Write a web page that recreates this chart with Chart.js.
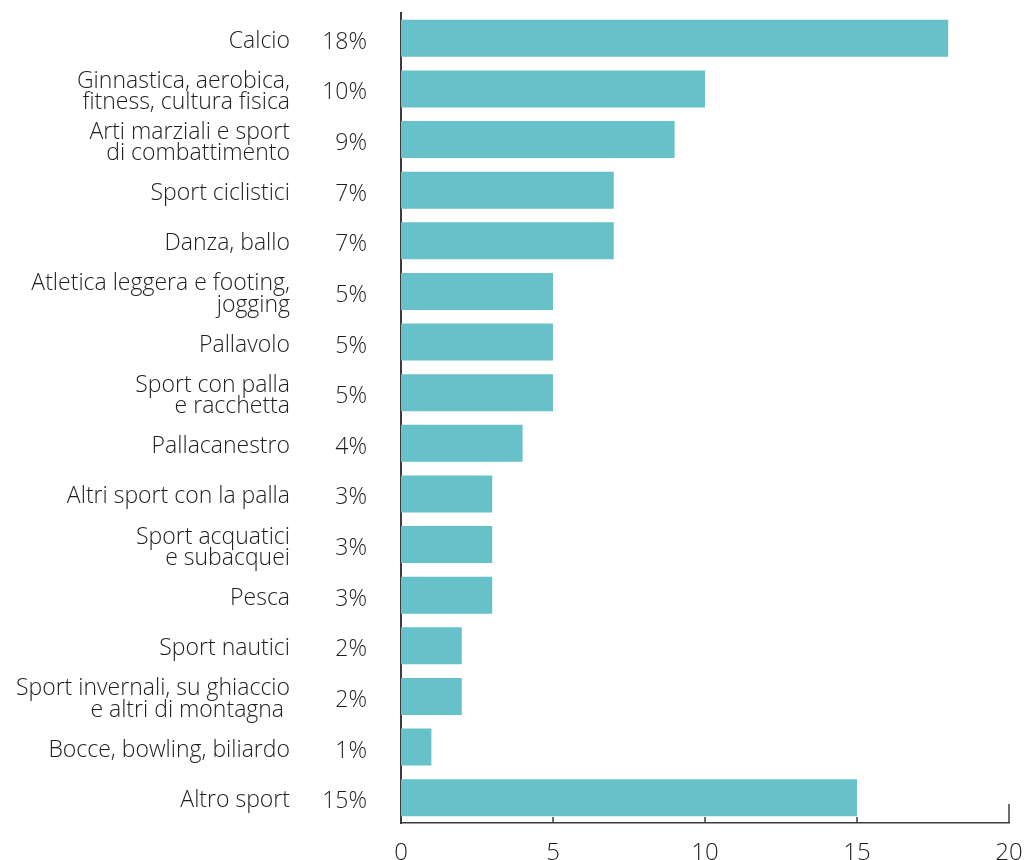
<!DOCTYPE html>
<html lang="it">
<head>
    <meta charset="UTF-8">
    <meta name="viewport" content="width=device-width, initial-scale=1.0">
    <title>Sport praticati</title>
    <script src="https://cdn.jsdelivr.net/npm/chart.js@4.4.1/dist/chart.umd.min.js"></script>
    <style>
        body { margin: 0; background: #fff; }
        #wrap { width: 1025px; height: 860px; }
    </style>
</head>
<body>
    <div id="wrap"><canvas id="myChart" width="1025" height="860"></canvas></div>

    <script>
        // Sport labels (multi-line where the original wraps)
        const sports = [
            'Calcio',
            ['Ginnastica, aerobica,', 'fitness, cultura fisica'],
            ['Arti marziali e sport', 'di combattimento'],
            'Sport ciclistici',
            'Danza, ballo',
            ['Atletica leggera e footing,', 'jogging'],
            'Pallavolo',
            ['Sport con palla', 'e racchetta'],
            'Pallacanestro',
            'Altri sport con la palla',
            ['Sport acquatici', 'e subacquei'],
            'Pesca',
            'Sport nautici',
            ['Sport invernali, su ghiaccio', 'e altri di montagna '],
            'Bocce, bowling, biliardo',
            'Altro sport'
        ];
        const shares = [18, 10, 9, 7, 7, 5, 5, 5, 4, 3, 3, 3, 2, 2, 1, 15];
        const xTicks = [0, 5, 10, 15, 20];

        const textColor = '#1d1d1b';
        const axisColor = '#3c3c3c';
        const fontFamily = '"Open Sans", "DejaVu Sans", sans-serif';

        // percentages next to the axis + inward tick marks on the x axis
        const extras = {
            id: 'extras',
            afterDraw(chart) {
                const ctx = chart.ctx;
                const y = chart.scales.y;
                const x = chart.scales.x;
                const area = chart.chartArea;
                ctx.save();
                ctx.fillStyle = textColor;
                ctx.font = '300 23px ' + fontFamily;
                ctx.textAlign = 'right';
                ctx.textBaseline = 'middle';
                shares.forEach((v, i) => {
                    ctx.fillText(v + '%', area.left - 34, y.getPixelForValue(i) + 4);
                });

                ctx.strokeStyle = axisColor;
                ctx.lineWidth = 1.5;
                xTicks.forEach((t, i) => {
                    if (t === 0) return;
                    const px = x.getPixelForValue(t);
                    const len = i === xTicks.length - 1 ? 19 : 6;
                    ctx.beginPath();
                    ctx.moveTo(px, area.bottom);
                    ctx.lineTo(px, area.bottom - len);
                    ctx.stroke();
                });
                ctx.restore();
            }
        };

        const ctx = document.getElementById('myChart').getContext('2d');
        const myChart = new Chart(ctx, {
            type: 'bar',
            data: {
                labels: sports,
                datasets: [{
                    data: shares,
                    backgroundColor: '#66c1c8',
                    borderWidth: 0,
                    barPercentage: 0.73,
                    categoryPercentage: 1
                }]
            },
            options: {
                indexAxis: 'y',
                responsive: false,
                animation: false,
                layout: { padding: { top: 13, right: 16, left: 0, bottom: 0 } },
                plugins: {
                    legend: { display: false },
                    tooltip: { enabled: false }
                },
                scales: {
                    x: {
                        min: 0,
                        max: 20,
                        afterFit(scale) {
                            scale.height = 37;
                            scale.paddingLeft = 0;
                            scale.paddingRight = 0;
                        },
                        afterBuildTicks(scale) { scale.ticks = xTicks.map(v => ({ value: v })); },
                        grid: { display: false, drawTicks: false },
                        border: { display: true, color: axisColor, width: 1.5 },
                        ticks: {
                            color: textColor,
                            padding: 16,
                            font: { family: fontFamily, size: 24, weight: 300 }
                        }
                    },
                    y: {
                        afterFit(scale) {
                            scale.width = 401;
                            scale.paddingTop = 0;
                            scale.paddingBottom = 0;
                        },
                        grid: { display: false, drawTicks: false },
                        border: { display: true, color: axisColor, width: 2 },
                        ticks: {
                            color: textColor,
                            padding: 111,
                            labelOffset: 3,
                            autoSkip: false,
                            font: { family: fontFamily, size: 23, weight: 300, lineHeight: 0.92 }
                        }
                    }
                }
            },
            plugins: [extras]
        });
    </script>
</body>
</html>
